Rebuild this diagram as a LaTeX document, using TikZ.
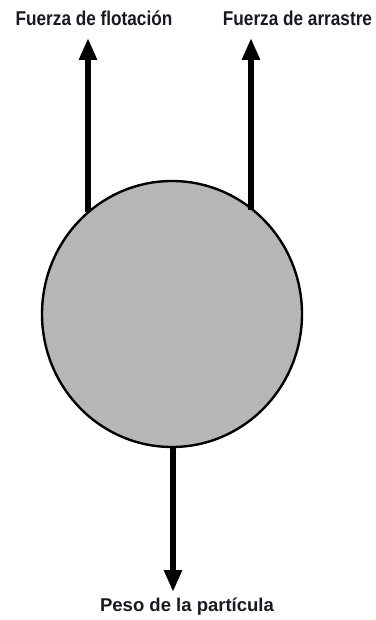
\documentclass[tikz,border=0pt]{standalone}
\usepackage{fontspec}
\newfontfamily\lab[FakeStretch=0.86]{Liberation Sans}
\newfontfamily\labw{Liberation Sans}
\usetikzlibrary{arrows.meta}
\definecolor{ballfill}{RGB}{182,182,182}
\definecolor{txt}{RGB}{25,25,35}
\begin{document}
\begin{tikzpicture}[x=1pt,y=-1pt,
  force/.style={line width=6.5pt,-{Triangle[length=22pt,width=17pt]}},
  lbl/.style={font=\lab\bfseries\fontsize{20}{22}\selectfont,text=txt,inner sep=0pt},
  lblw/.style={font=\labw\bfseries\fontsize{18.5}{21}\selectfont,text=txt,inner sep=0pt},
  ball/.style={draw=black,line width=2.4pt,fill=ballfill}]
\useasboundingbox (0,0) rectangle (375,620);
\fill[white] (0,0) rectangle (375,620);
\draw[ball] (172,314) ellipse [x radius=130, y radius=133];
\coordinate (ball) at (172,314);
\coordinate (l0) at (88,212);
\coordinate (l1) at (88,38);
\coordinate (r0) at (251,210);
\coordinate (r1) at (251,38);
\coordinate (b0) at (173,446);
\coordinate (b1) at (173,592);
\draw[force] (l0) -- (l1);
\draw[force] (r0) -- (r1);
\draw[force] (b0) -- (b1);
\node[lbl] (tl) at (94,18) {Fuerza de flotación};
\node[lbl] (tr) at (297.5,18) {Fuerza de arrastre};
\node[lblw] (tb) at (187,607) {Peso de la partícula};
\end{tikzpicture}
\end{document}
